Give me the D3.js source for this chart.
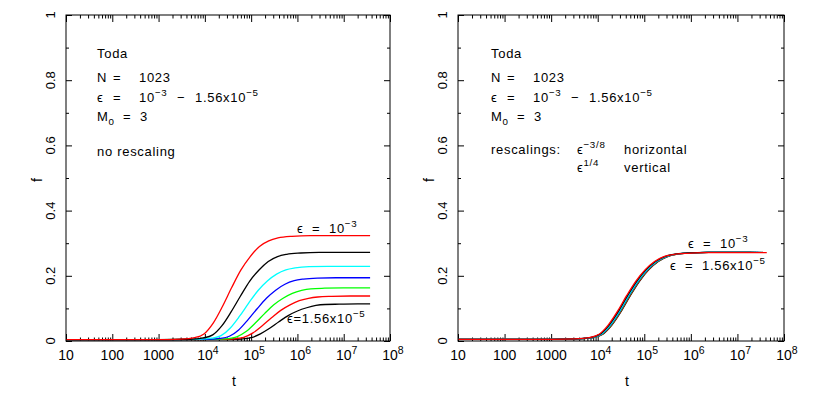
<!DOCTYPE html>
<html>
<head>
<meta charset="utf-8">
<script src="https://cdn.jsdelivr.net/npm/d3@7"></script>
<style>
  body { margin: 0; background: #fff; }
  text { font-family: "Liberation Sans", Arial, sans-serif; fill: #000; white-space: pre; }
  .note { letter-spacing: 0.7px; }
</style>
</head>
<body>
<div id="chart"></div>
<script>
var width = 818
var height = 393

// curve colours, from largest eps (1e-3) down to 1.56e-5
var colors = ['#ff0000', '#000000', '#00ffff', '#0000ff', '#00ff00', '#ff0000', '#000000'];

// left panel (no rescaling): [log10(t), f]
var leftRed = [[1,0.004],[3,0.004],[3.48,0.0056],[3.78,0.0104],[3.98,0.0215],[4.18,0.055],[4.38,0.106],[4.58,0.164],[4.78,0.218],[4.98,0.259],[5.18,0.290],[5.38,0.307],[5.58,0.316],[5.88,0.321],[6.28,0.323],[7.57,0.323]];
var leftBlack = [[1,0.004],[3,0.004],[3.67,0.0053],[3.97,0.0094],[4.17,0.0187],[4.37,0.047],[4.57,0.090],[4.77,0.138],[4.97,0.184],[5.17,0.218],[5.37,0.244],[5.57,0.259],[5.77,0.266],[6.07,0.270],[6.47,0.272],[7.57,0.272]];
var leftCyan = [[1,0.004],[3,0.004],[3.85,0.0051],[4.15,0.0085],[4.35,0.0164],[4.55,0.040],[4.75,0.076],[4.95,0.117],[5.15,0.155],[5.35,0.184],[5.55,0.205],[5.75,0.218],[5.95,0.224],[6.25,0.228],[6.65,0.229],[7.57,0.229]];
var leftBlue = [[1,0.004],[3,0.004],[4.03,0.005],[4.33,0.0078],[4.53,0.0145],[4.73,0.034],[4.93,0.065],[5.13,0.099],[5.33,0.131],[5.53,0.156],[5.73,0.174],[5.93,0.185],[6.13,0.190],[6.43,0.193],[6.83,0.194],[7.57,0.194]];
var leftGreen = [[1,0.004],[3,0.004],[4.19,0.0048],[4.49,0.0072],[4.69,0.0127],[4.89,0.029],[5.09,0.055],[5.29,0.084],[5.49,0.111],[5.69,0.131],[5.89,0.146],[6.09,0.155],[6.29,0.160],[6.59,0.162],[6.99,0.163],[7.57,0.163]];
var leftRed2 = [[1,0.004],[3,0.004],[4.34,0.0047],[4.64,0.0067],[4.84,0.0114],[5.04,0.025],[5.24,0.047],[5.44,0.071],[5.64,0.094],[5.84,0.111],[6.04,0.124],[6.24,0.131],[6.44,0.135],[6.74,0.137],[7.14,0.138],[7.57,0.138]];
var leftBlack2 = [[1,0.004],[3,0.004],[4.50,0.0046],[4.80,0.0062],[5.00,0.010],[5.20,0.022],[5.40,0.039],[5.60,0.059],[5.80,0.078],[6.00,0.092],[6.20,0.102],[6.40,0.109],[6.60,0.112],[6.90,0.113],[7.30,0.114],[7.57,0.114]];

// right panel (rescaled): [log10(t'), f']
var rightRed = [[1,0.005],[3,0.005],[3.52,0.0063],[3.82,0.0103],[4.02,0.0197],[4.22,0.048],[4.42,0.090],[4.62,0.139],[4.82,0.184],[5.02,0.219],[5.22,0.244],[5.42,0.259],[5.62,0.265],[5.92,0.269],[6.32,0.271],[7.63,0.271]];
var rightBlack = [[1,0.005],[3,0.005],[3.54,0.0063],[3.84,0.0103],[4.04,0.0197],[4.24,0.048],[4.44,0.090],[4.64,0.139],[4.84,0.184],[5.04,0.219],[5.24,0.244],[5.44,0.259],[5.64,0.266],[5.94,0.270],[6.34,0.272],[7.55,0.272]];
var rightCyan = [[1,0.005],[3,0.005],[3.56,0.0063],[3.86,0.0103],[4.06,0.0197],[4.26,0.048],[4.46,0.090],[4.66,0.139],[4.86,0.184],[5.06,0.219],[5.26,0.244],[5.46,0.259],[5.66,0.266],[5.96,0.270],[6.36,0.272],[7.50,0.272]];
var rightBlue = [[1,0.005],[3,0.005],[3.57,0.0063],[3.87,0.0103],[4.07,0.0197],[4.27,0.048],[4.47,0.090],[4.67,0.139],[4.87,0.184],[5.07,0.219],[5.27,0.244],[5.47,0.259],[5.67,0.266],[5.97,0.270],[6.37,0.272],[7.45,0.272]];
var rightGreen = [[1,0.005],[3,0.005],[3.58,0.0063],[3.88,0.0103],[4.08,0.0197],[4.28,0.048],[4.48,0.090],[4.68,0.139],[4.88,0.184],[5.08,0.219],[5.28,0.244],[5.48,0.259],[5.68,0.266],[5.98,0.270],[6.38,0.272],[7.40,0.272]];
var rightRed2 = [[1,0.005],[3,0.005],[3.59,0.0063],[3.89,0.0103],[4.09,0.0197],[4.29,0.048],[4.49,0.090],[4.69,0.139],[4.89,0.184],[5.09,0.219],[5.29,0.244],[5.49,0.259],[5.69,0.266],[5.99,0.270],[6.39,0.272],[7.35,0.272]];
var rightBlack2 = [[1,0.005],[3,0.005],[3.60,0.0063],[3.90,0.0103],[4.10,0.0197],[4.30,0.048],[4.50,0.090],[4.70,0.139],[4.90,0.184],[5.10,0.219],[5.30,0.244],[5.50,0.259],[5.70,0.266],[6.00,0.270],[6.40,0.272],[7.30,0.272]];

var leftSeries = [leftRed, leftBlack, leftCyan, leftBlue, leftGreen, leftRed2, leftBlack2];
var rightSeries = [rightRed, rightBlack, rightCyan, rightBlue, rightGreen, rightRed2, rightBlack2];

// tick labels
var xTickValues = [10, 100, 1000, 1e4, 1e5, 1e6, 1e7, 1e8];
var xTickBase = ['10', '100', '1000', '10', '10', '10', '10', '10'];
var xTickExp = ['', '', '', '4', '5', '6', '7', '8'];
var yTickValues = [0, 0.2, 0.4, 0.6, 0.8, 1];
var yTickLabels = ['0', '0.2', '0.4', '0.6', '0.8', '1'];
var yMinorValues = [0.1, 0.3, 0.5, 0.7, 0.9];

var svg = d3.select('#chart')
            .append('svg')
            .attr('width', width)
            .attr('height', height);

function minorTicks() {
    var out = [];
    for (var p = 1; p < 8; p++) {
        for (var k = 2; k <= 9; k++) out.push(k * Math.pow(10, p));
    }
    return out;
}

// text with super/subscript pieces: [[str, 'sup'|'sub'|''], ...]
function richText(g, x, y, parts, size, anchor, cls) {
    var t = g.append('text')
             .attr('class', cls || null)
             .attr('x', x)
             .attr('y', y)
             .attr('font-size', size)
             .attr('text-anchor', anchor || 'start');
    var shift = 0;
    parts.forEach(function(p) {
        var sp = t.append('tspan').text(p[0]);
        var want = p[1] == 'sup' ? -6 : (p[1] == 'sub' ? 4 : 0);
        if (want != shift) sp.attr('dy', want - shift);
        shift = want;
        if (p[1]) sp.attr('font-size', size * 0.75);
    });
    return t;
}

function note(g, x, y, parts) {
    return richText(g, x, y, parts, 13, 'start', 'note');
}

function drawPanel(left, right, series) {
    var top = 15, bottom = 341;
    var x = d3.scaleLog().domain([10, 1e8]).range([left, right]);
    var y = d3.scaleLinear().domain([0, 1]).range([bottom, top]);
    var g = svg.append('g');

    // ticks (inside the frame, all four sides)
    g.append('g').attr('transform', 'translate(0,' + bottom + ')')
        .call(d3.axisBottom(x).tickValues(xTickValues).tickSize(-7).tickSizeOuter(0).tickFormat(''));
    g.append('g').attr('transform', 'translate(0,' + bottom + ')')
        .call(d3.axisBottom(x).tickValues(minorTicks()).tickSize(-3.5).tickSizeOuter(0).tickFormat(''));
    g.append('g').attr('transform', 'translate(0,' + top + ')')
        .call(d3.axisTop(x).tickValues(xTickValues).tickSize(-7).tickSizeOuter(0).tickFormat(''));
    g.append('g').attr('transform', 'translate(0,' + top + ')')
        .call(d3.axisTop(x).tickValues(minorTicks()).tickSize(-3.5).tickSizeOuter(0).tickFormat(''));
    g.append('g').attr('transform', 'translate(' + left + ',0)')
        .call(d3.axisLeft(y).tickValues(yTickValues).tickSize(-6).tickSizeOuter(0).tickFormat(''));
    g.append('g').attr('transform', 'translate(' + left + ',0)')
        .call(d3.axisLeft(y).tickValues(yMinorValues).tickSize(-3).tickSizeOuter(0).tickFormat(''));
    g.append('g').attr('transform', 'translate(' + right + ',0)')
        .call(d3.axisRight(y).tickValues(yTickValues).tickSize(-6).tickSizeOuter(0).tickFormat(''));
    g.append('g').attr('transform', 'translate(' + right + ',0)')
        .call(d3.axisRight(y).tickValues(yMinorValues).tickSize(-3).tickSizeOuter(0).tickFormat(''));
    g.selectAll('.domain').remove();
    g.selectAll('.tick line').attr('stroke', '#000').attr('stroke-width', 1);

    // x tick labels
    xTickValues.forEach(function(v, i) {
        var parts = [[xTickBase[i], '']];
        if (xTickExp[i]) parts.push([xTickExp[i], 'sup']);
        var lx = x(v) + (xTickExp[i] ? 3 : 0);
        richText(g, lx, 360, parts, 14, 'middle');
    });
    // y tick labels, rotated
    yTickValues.forEach(function(v, i) {
        g.append('text')
         .attr('transform', 'translate(' + (left - 11) + ',' + y(v) + ') rotate(-90)')
         .attr('text-anchor', 'middle')
         .attr('font-size', 13)
         .text(yTickLabels[i]);
    });
    g.append('text')
     .attr('x', (left + right) / 2 + 6)
     .attr('y', 386)
     .attr('text-anchor', 'middle')
     .attr('font-size', 14)
     .text('t');
    g.append('text')
     .attr('transform', 'translate(' + (left - 24) + ',' + 180 + ') rotate(-90)')
     .attr('text-anchor', 'middle')
     .attr('font-size', 14)
     .text('f');

    // curves, smallest eps first so the red 1e-3 curve sits on top
    var line = d3.line()
                 .curve(d3.curveMonotoneX)
                 .x(function(d) { return x(Math.pow(10, d[0])); })
                 .y(function(d) { return y(d[1]); });
    for (var i = series.length - 1; i >= 0; i--) {
        g.append('path')
         .datum(series[i])
         .attr('d', line)
         .attr('fill', 'none')
         .attr('stroke', colors[i])
         .attr('stroke-width', 1.3);
    }

    g.append('rect')
     .attr('x', left).attr('y', top)
     .attr('width', right - left).attr('height', bottom - top)
     .attr('fill', 'none').attr('stroke', '#000').attr('stroke-width', 1);
    return g;
}

var gl = drawPanel(66, 390, leftSeries);
var gr = drawPanel(458, 784, rightSeries);

function header(g, x0) {
    note(g, x0, 58, [['Toda', '']]);
    note(g, x0, 82, [['N', '']]);
    note(g, x0 + 16, 82, [['=', '']]);
    note(g, x0 + 42, 82, [['1023', '']]);
    note(g, x0, 102, [['\u03f5', '']]);
    note(g, x0 + 16, 102, [['=', '']]);
    note(g, x0 + 42, 102, [['10', ''], ['\u22123', 'sup']]);
    note(g, x0 + 80, 102, [['\u2212', '']]);
    note(g, x0 + 98, 102, [['1.56x10', ''], ['\u22125', 'sup']]);
    note(g, x0, 121, [['M', ''], ['0', 'sub']]);
    note(g, x0 + 26, 121, [['=', '']]);
    note(g, x0 + 43, 121, [['3', '']]);
}
header(gl, 97);
header(gr, 491);

note(gl, 97, 156, [['no rescaling', '']]);
note(gr, 491, 154, [['rescalings:', '']]);
note(gr, 577, 154, [['\u03f5', ''], ['\u22123/8', 'sup']]);
note(gr, 624, 154, [['horizontal', '']]);
note(gr, 577, 172, [['\u03f5', ''], ['1/4', 'sup']]);
note(gr, 624, 172, [['vertical', '']]);

note(gl, 297, 233, [['\u03f5  =  10', ''], ['\u22123', 'sup']]);
note(gl, 287, 323, [['\u03f5=1.56x10', ''], ['\u22125', 'sup']]);
note(gr, 688, 248, [['\u03f5  =  10', ''], ['\u22123', 'sup']]);
note(gr, 670, 270, [['\u03f5  =  1.56x10', ''], ['\u22125', 'sup']]);
</script>
</body>
</html>
